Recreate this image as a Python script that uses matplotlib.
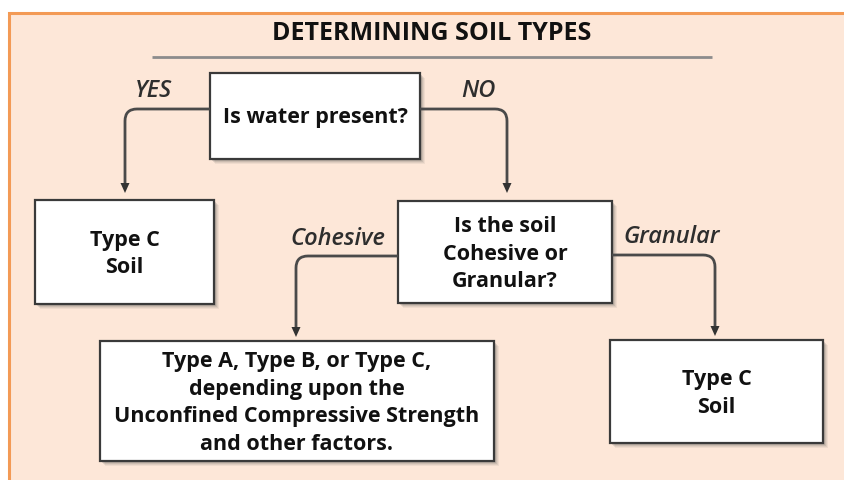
import matplotlib
matplotlib.use('Agg')
import matplotlib.pyplot as plt
from matplotlib.patches import Rectangle, Polygon, PathPatch
from matplotlib.path import Path

# chart content
title = 'DETERMINING SOIL TYPES'
node_texts = [
    'Is water present?',
    'Type C\nSoil',
    'Is the soil\nCohesive or\nGranular?',
    'Type A, Type B, or Type C,\ndepending upon the\nUnconfined Compressive Strength\nand other factors.',
    'Type C\nSoil',
]
edge_labels = ['YES', 'NO', 'Cohesive', 'Granular']

# layout in pixels (x0, y0, x1, y1), y downward
boxes = [
    (210, 73, 420, 159),
    (35, 200, 214, 304),
    (398, 201, 612, 303),
    (100, 341, 494, 461),
    (610, 340, 823, 443),
]
# connectors: start point, corner x, end y
edges = [
    ((210, 109), 125, 193),
    ((420, 109), 507, 193),
    ((398, 256), 296, 337),
    ((612, 255), 715, 336),
]
label_pos = [(153, 91), (478, 91), (338, 239), (672, 237)]

FONT = 'Open Sans'
INK = '#111111'
LINE = '#4a4a4a'

fig = plt.figure(figsize=(8.44, 4.8), dpi=100)
ax = fig.add_axes([0, 0, 1, 1])
ax.set_xlim(0, 844)
ax.set_ylim(480, 0)
ax.axis('off')

# panel background with orange border
ax.add_patch(Rectangle((9, 13), 850, 480, facecolor='#fde7d8',
                       edgecolor='#f39a55', lw=2.2, zorder=0))

ax.text(432, 34, title, ha='center', va='center', fontsize=18,
        fontweight='bold', family=FONT, color=INK)
ax.plot([152, 712], [57, 57], color='#8c8c8c', lw=2, solid_capstyle='butt')

for (x0, y0, x1, y1), txt in zip(boxes, node_texts):
    w, h = x1 - x0, y1 - y0
    for k, a in [(5, 0.08), (4, 0.1), (3, 0.14), (2, 0.18)]:
        ax.add_patch(Rectangle((x0 + k, y0 + k), w, h, facecolor='#555555',
                               edgecolor='none', alpha=a, zorder=1))
    ax.add_patch(Rectangle((x0, y0), w, h, facecolor='white',
                           edgecolor='#3a3a3a', lw=1.6, zorder=2))
    ax.text((x0 + x1) / 2, (y0 + y1) / 2 + 2, txt, ha='center', va='center',
            fontsize=15.5, fontweight='bold', family=FONT, color=INK,
            linespacing=1.42, zorder=3)

r = 12
for (sx, sy), cx, ey in edges:
    d = 1 if cx > sx else -1
    verts = [(sx, sy), (cx - d * r, sy), (cx, sy), (cx, sy + r), (cx, ey - 8)]
    codes = [Path.MOVETO, Path.LINETO, Path.CURVE3, Path.CURVE3, Path.LINETO]
    ax.add_patch(PathPatch(Path(verts, codes), facecolor='none',
                           edgecolor=LINE, lw=2, zorder=2))
    ax.add_patch(Polygon([(cx - 4.5, ey - 10), (cx + 4.5, ey - 10), (cx, ey)],
                         closed=True, facecolor='#333333', edgecolor='none',
                         zorder=3))

for (lx, ly), lab in zip(label_pos, edge_labels):
    ax.text(lx, ly, lab, ha='center', va='center', fontsize=17,
            style='italic', fontweight='semibold', family=FONT,
            color='#2e2e2e')

fig.savefig('out.png', dpi=100)
